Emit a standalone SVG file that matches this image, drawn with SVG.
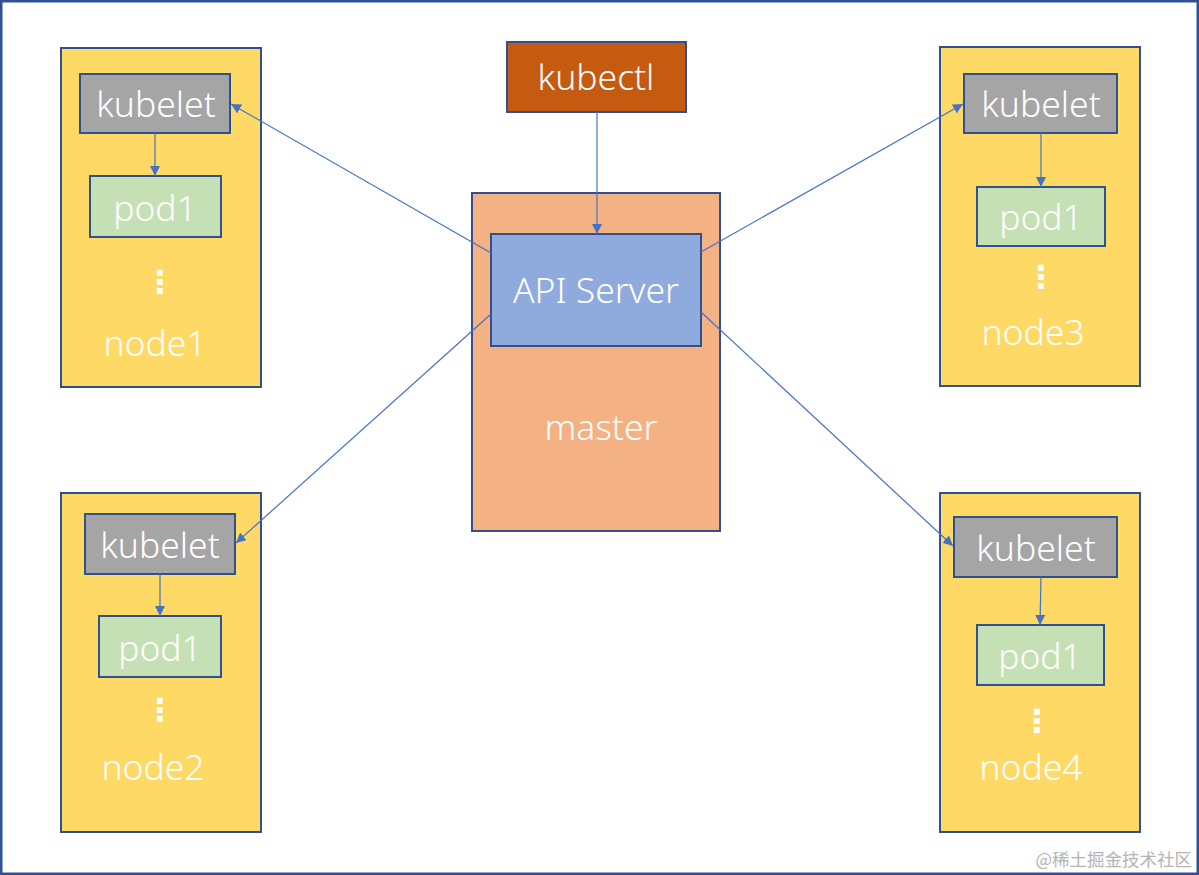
<svg xmlns="http://www.w3.org/2000/svg" width="1199" height="875" viewBox="0 0 1199 875">
<defs>
<style>
.frame{fill:#ffffff;stroke:#2F528F;stroke-width:2.5}
.node{fill:#FFD966;stroke:#2F528F;stroke-width:2}
.kubelet{fill:#A5A5A5;stroke:#2F528F;stroke-width:2}
.pod{fill:#C5E0B4;stroke:#2F528F;stroke-width:2}
.kubectl{fill:#C55A11;stroke:#2F528F;stroke-width:2}
.master{fill:#F4B183;stroke:#2F528F;stroke-width:2}
.api{fill:#8FAADC;stroke:#2F528F;stroke-width:2}
.t{font-family:"Noto Sans","Liberation Sans",sans-serif;font-weight:300;font-size:35.5px;fill:#ffffff;text-anchor:middle}
.dots{font-family:"DejaVu Sans",sans-serif;font-weight:bold;font-size:32px;fill:#ffffff;text-anchor:middle}
.conn{stroke:#4472C4;stroke-width:1.2;fill:none;marker-end:url(#arr)}
.wm{font-family:"Noto Sans CJK SC",sans-serif;font-size:17.5px;fill:#B4B4B4;text-anchor:end}
</style>
<marker id="arr" viewBox="0 0 10 10" refX="10" refY="5" markerWidth="10" markerHeight="10" markerUnits="userSpaceOnUse" orient="auto">
<path d="M0,0 L10,5 L0,10 z" fill="#4472C4"/>
</marker>
</defs>
<rect class="frame" x="1.25" y="1.25" width="1196.5" height="872.5"/>

<g id="node1">
<rect class="node" x="61" y="48" width="200" height="339"/>
<rect class="kubelet" x="80" y="74" width="150" height="59"/>
<text class="t" x="156" y="117">kubelet</text>
<rect class="pod" x="90" y="176" width="131" height="61"/>
<text class="t" x="155" y="221">pod1</text>
<text class="dots" x="160" y="293">⋮</text>
<text class="t" x="155" y="356">node1</text>
</g>

<g id="node2">
<rect class="node" x="61" y="493" width="200" height="339"/>
<rect class="kubelet" x="85" y="514" width="150" height="60"/>
<text class="t" x="160" y="558">kubelet</text>
<rect class="pod" x="99" y="616" width="122" height="61"/>
<text class="t" x="160" y="661">pod1</text>
<text class="dots" x="160" y="721">⋮</text>
<text class="t" x="153" y="780">node2</text>
</g>

<g id="node3">
<rect class="node" x="940" y="47" width="200" height="339"/>
<rect class="kubelet" x="964" y="74" width="153" height="59"/>
<text class="t" x="1041" y="117">kubelet</text>
<rect class="pod" x="977" y="187" width="128" height="59"/>
<text class="t" x="1041" y="230">pod1</text>
<text class="dots" x="1041" y="288">⋮</text>
<text class="t" x="1033" y="345">node3</text>
</g>

<g id="node4">
<rect class="node" x="940" y="493" width="200" height="339"/>
<rect class="kubelet" x="954" y="517" width="163" height="60"/>
<text class="t" x="1036" y="561">kubelet</text>
<rect class="pod" x="977" y="625" width="127" height="60"/>
<text class="t" x="1040" y="669">pod1</text>
<text class="dots" x="1037" y="732">⋮</text>
<text class="t" x="1031" y="780">node4</text>
</g>

<g id="kubectl">
<rect class="kubectl" x="507" y="42" width="179" height="70"/>
<text class="t" x="596" y="90">kubectl</text>
</g>

<g id="master">
<rect class="master" x="472" y="193" width="248" height="338"/>
<text class="t" x="601" y="440">master</text>
</g>

<g id="apiserver">
<rect class="api" x="491" y="234" width="210" height="112"/>
<text class="t" x="596" y="303">API Server</text>
</g>

<g id="connectors">
<line class="conn" x1="597" y1="112" x2="597" y2="234"/>
<line class="conn" x1="491" y1="253" x2="231" y2="104"/>
<line class="conn" x1="491" y1="314" x2="236" y2="543"/>
<line class="conn" x1="701" y1="252" x2="963" y2="104"/>
<line class="conn" x1="701" y1="312" x2="953" y2="546"/>
<line class="conn" x1="155" y1="133" x2="155" y2="176"/>
<line class="conn" x1="160" y1="574" x2="160" y2="616"/>
<line class="conn" x1="1041" y1="133" x2="1041" y2="187"/>
<line class="conn" x1="1041" y1="577" x2="1040" y2="625"/>
</g>

<text class="wm" x="1192" y="866">@稀土掘金技术社区</text>
</svg>
